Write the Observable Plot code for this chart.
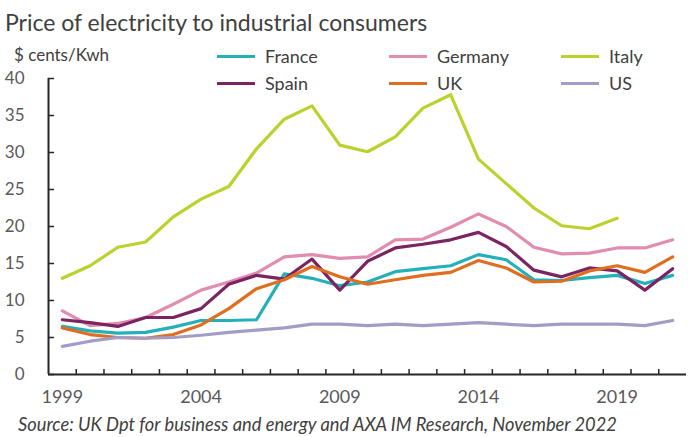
<!DOCTYPE html>
<html>
<head>
<meta charset="utf-8">
<script src="https://cdn.jsdelivr.net/npm/d3@7"></script>
<script src="https://cdn.jsdelivr.net/npm/@observablehq/plot@0.6"></script>
<style>
  html, body { margin: 0; padding: 0; background: #fff; }
  #wrap { position: relative; width: 688px; height: 437px; overflow: hidden; font-family: Lato, "Open Sans", sans-serif; }
  #title { position: absolute; left: 5px; top: 8px; font-size: 23px; color: #404040; white-space: nowrap; }
  #unit { position: absolute; left: 14px; top: 44px; font-size: 17px; color: #404040; white-space: nowrap; }
  #legend { position: absolute; left: 217px; top: 45px; display: grid; grid-template-columns: 172px 172px 120px; row-gap: 5px; }
  .item { display: flex; align-items: center; height: 22px; font-size: 18px; color: #404040; white-space: nowrap; }
  .sw { width: 38px; height: 3px; margin-right: 10px; }
  #chart { position: absolute; left: 0; top: 40px; }
  #source { position: absolute; left: 18px; top: 413px; font-size: 18.3px; font-style: italic; color: #404040; white-space: nowrap; }
</style>
</head>
<body>
<div id="wrap">
  <div id="title"></div>
  <div id="unit"></div>
  <div id="legend"></div>
  <div id="chart"></div>
  <div id="source"></div>
</div>
<script>
const titleText = "Price of electricity to industrial consumers";
const unitText = "$ cents/Kwh";
const sourceText = "Source: UK Dpt for business and energy and AXA IM Research, November 2022";

const years = [1999, 2000, 2001, 2002, 2003, 2004, 2005, 2006, 2007, 2008, 2009, 2010,
               2011, 2012, 2013, 2014, 2015, 2016, 2017, 2018, 2019, 2020, 2021];
const yearLabels = [1999, 2004, 2009, 2014, 2019];
const yTicks = [0, 5, 10, 15, 20, 25, 30, 35, 40];

const seriesNames = ["France", "Germany", "Italy", "Spain", "UK", "US"];
const seriesColors = ["#25b0b9", "#e18db0", "#bcd12c", "#7b2462", "#df6e20", "#a39cc6"];

const france  = [6.5, 5.9, 5.6, 5.7, 6.4, 7.3, 7.3, 7.4, 13.6, 13.0, 12.0, 12.5, 13.9, 14.3, 14.7, 16.2, 15.5, 12.8, 12.7, 13.1, 13.4, 12.3, 13.4];
const germany = [8.6, 6.6, 6.9, 7.7, 9.5, 11.4, 12.5, 13.7, 15.9, 16.2, 15.7, 15.9, 18.2, 18.3, 19.9, 21.7, 20.0, 17.2, 16.3, 16.4, 17.1, 17.1, 18.2];
const italy   = [13.0, 14.7, 17.2, 17.9, 21.3, 23.7, 25.4, 30.5, 34.5, 36.3, 31.0, 30.1, 32.1, 36.0, 37.8, 29.1, 25.8, 22.5, 20.1, 19.7, 21.1, null, null];
const spain   = [7.4, 7.0, 6.5, 7.7, 7.7, 8.9, 12.2, 13.4, 12.9, 15.6, 11.4, 15.3, 17.1, 17.6, 18.2, 19.2, 17.3, 14.1, 13.2, 14.4, 14.0, 11.4, 14.3];
const uk      = [6.3, 5.4, 5.0, 4.9, 5.4, 6.7, 8.9, 11.6, 12.8, 14.6, 13.2, 12.2, 12.8, 13.4, 13.8, 15.4, 14.4, 12.5, 12.6, 14.0, 14.7, 13.8, 15.9];
const us      = [3.8, 4.5, 5.0, 4.9, 5.0, 5.3, 5.7, 6.0, 6.3, 6.8, 6.8, 6.6, 6.8, 6.6, 6.8, 7.0, 6.8, 6.6, 6.8, 6.8, 6.8, 6.6, 7.3];

const seriesValues = [france, germany, italy, spain, uk, us];

const rows = [];
seriesNames.forEach((name, s) => {
  seriesValues[s].forEach((v, i) => {
    if (v != null) rows.push({country: name, year: years[i], value: v});
  });
});

const xDomain = [years[0] - 0.5, years[years.length - 1] + 0.5];
const boundaries = years.slice(0, -1).map(y => y + 0.5);

document.getElementById("title").textContent = titleText;
document.getElementById("unit").textContent = unitText;
document.getElementById("source").textContent = sourceText;

const legend = document.getElementById("legend");
seriesNames.forEach((name, i) => {
  const item = document.createElement("div");
  item.className = "item";
  const sw = document.createElement("span");
  sw.className = "sw";
  sw.style.background = seriesColors[i];
  const lab = document.createElement("span");
  lab.textContent = name;
  item.appendChild(sw);
  item.appendChild(lab);
  legend.appendChild(item);
});

const axisColor = "#262626";
const labelColor = "#595959";

const chart = Plot.plot({
  width: 688,
  height: 372,
  marginLeft: 48,
  marginRight: 2,
  marginTop: 38,
  marginBottom: 38,
  style: {fontFamily: "Lato, 'Open Sans', sans-serif", fontSize: "17px", color: labelColor, background: "transparent"},
  x: {domain: xDomain},
  y: {domain: [0, 40]},
  color: {domain: seriesNames, range: seriesColors},
  marks: [
    Plot.axisY({ticks: yTicks, tickSize: 0, tickPadding: 24, label: null, tickFormat: d => String(d), fill: labelColor, fontSize: 17}),
    Plot.axisY({ticks: yTicks, tickSize: 6, dx: 6, text: null, label: null, stroke: axisColor, strokeWidth: 1.5}),
    Plot.axisX({ticks: yearLabels, tickSize: 0, tickPadding: 16, label: null, tickFormat: d => String(d), fill: labelColor, fontSize: 18}),
    Plot.axisX({ticks: boundaries, tickSize: 5, dy: -5, text: null, label: null, stroke: axisColor, strokeWidth: 1.5}),
    Plot.line(rows, {x: "year", y: "value", stroke: "country", z: "country", strokeWidth: 3.2, strokeLinejoin: "round"}),
    Plot.ruleX([xDomain[0]], {stroke: axisColor, strokeWidth: 2}),
    Plot.ruleY([0], {stroke: axisColor, strokeWidth: 2})
  ]
});
document.getElementById("chart").appendChild(chart);
</script>
</body>
</html>
